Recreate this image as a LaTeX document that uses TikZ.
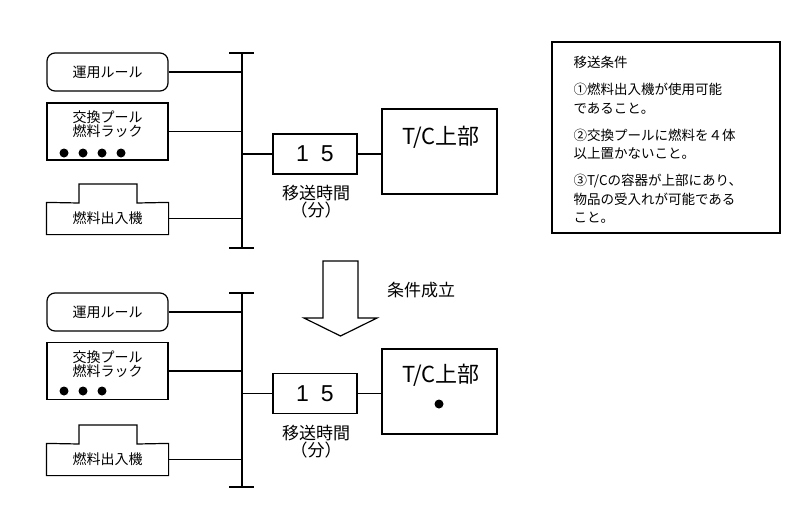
\documentclass[tikz,border=0pt]{standalone}
\usepackage{fontspec}
\setmainfont{Noto Sans CJK JP}
\newfontfamily\latinfont{Liberation Sans}
\begin{document}
\begin{tikzpicture}[x=1pt,y=-1pt,line width=1.2pt,
  lbox/.style={draw,minimum width=121pt,inner sep=0pt,font=\fontsize{14}{14}\selectfont},
  ltext/.style={inner sep=0pt,font=\fontsize{14}{14}\selectfont,align=center},
  numbox/.style={draw,minimum width=84pt,minimum height=40pt,inner sep=0pt,font=\latinfont\fontsize{23}{23}\selectfont},
  tcbox/.style={draw,minimum width=115pt,minimum height=85pt,inner sep=0pt},
  tctext/.style={inner sep=0pt,font=\fontsize{22}{22}\selectfont},
  caption/.style={inner sep=0pt,font=\fontsize{17}{14}\selectfont,align=center},
  fdot/.style={fill=black,draw=none,circle,minimum size=9pt,inner sep=0pt},
  bus/.style={line width=1.2pt},
]
\useasboundingbox (0,0) rectangle (800,519);

% ---------- top section ----------
\node[lbox,rounded corners=8pt,minimum height=38pt] (rule1) at (107.5,72) {運用ルール};
\node[lbox,minimum height=57pt] (pool1) at (107.5,131.5) {};
\node[ltext,font=\fontsize{14}{13.5}\selectfont] (pool1t) at (107.5,124) {交換プール\\燃料ラック};
\node[fdot] (d11) at (64,153) {};
\node[fdot] (d12) at (83,153) {};
\node[fdot] (d13) at (102,153) {};
\node[fdot] (d14) at (121,153) {};
\node[ltext,minimum width=121pt,minimum height=31pt] (mach1) at (107.5,218.5) {\raisebox{-1.5pt}{燃料出入機}};
\draw (mach1.north west) -- (79,203) -- (79,184) -- (137,184) -- (137,203) -- (mach1.north east)
      -- (mach1.south east) -- (mach1.south west) -- cycle;
\coordinate (bus1t) at (242,53);
\coordinate (bus1b) at (242,248);
\draw[bus] (bus1t) -- (bus1b);
\draw[bus] ([xshift=-13pt]bus1t) -- ([xshift=12pt]bus1t);
\draw[bus] ([xshift=-13pt]bus1b) -- ([xshift=12pt]bus1b);
\draw (rule1.east) -- (rule1.east -| bus1t);
\draw (pool1.east) -- (pool1.east -| bus1t);
\draw (mach1.east) -- (mach1.east -| bus1t);
\node[numbox] (num1) at (315,154) {1\hspace{12pt}5};
\draw (num1.west -| bus1t) -- (num1.west);
\node[tcbox] (tc1) at (439.5,151.5) {};
\node[tctext] (tc1t) at (441,137) {T/C上部};
\draw (num1.east) -- (num1.east -| tc1.west);
\node[caption] (cap1) at (316,202) {移送時間\\（分）};

% ---------- arrow ----------
\draw (323,261) -- (358,261) -- (358,318) -- (377,318) -- (340.5,336) -- (304,318) -- (323,318) -- cycle;
\node[caption] (cond) at (421,290) {条件成立};

% ---------- bottom section ----------
\node[lbox,rounded corners=8pt,minimum height=38pt] (rule2) at (107.5,312) {運用ルール};
\node[lbox,minimum height=57pt] (pool2) at (107.5,371) {};
\node[ltext,font=\fontsize{14}{13.5}\selectfont] (pool2t) at (107.5,364) {交換プール\\燃料ラック};
\node[fdot] (d21) at (64,391) {};
\node[fdot] (d22) at (83,391) {};
\node[fdot] (d23) at (102,391) {};
\node[ltext,minimum width=121pt,minimum height=31pt] (mach2) at (107.5,459.5) {\raisebox{-1.5pt}{燃料出入機}};
\draw (mach2.north west) -- (79,444) -- (79,425) -- (137,425) -- (137,444) -- (mach2.north east)
      -- (mach2.south east) -- (mach2.south west) -- cycle;
\coordinate (bus2t) at (242,293);
\coordinate (bus2b) at (242,487);
\draw[bus] (bus2t) -- (bus2b);
\draw[bus] ([xshift=-13pt]bus2t) -- ([xshift=12pt]bus2t);
\draw[bus] ([xshift=-13pt]bus2b) -- ([xshift=12pt]bus2b);
\draw (rule2.east) -- (rule2.east -| bus2t);
\draw (pool2.east) -- (pool2.east -| bus2t);
\draw (mach2.east) -- (mach2.east -| bus2t);
\node[numbox] (num2) at (315,393.5) {1\hspace{12pt}5};
\draw (num2.west -| bus2t) -- (num2.west);
\node[tcbox] (tc2) at (439.5,391.5) {};
\node[tctext] (tc2t) at (441,375) {T/C上部};
\node[fdot,minimum size=9pt] (tcdot) at (439,404) {};
\draw (num2.east) -- (num2.east -| tc2.west);
\node[caption] (cap2) at (316,442) {移送時間\\（分）};

% ---------- conditions ----------
\node[draw,line width=1.8pt,minimum width=228pt,minimum height=191pt,inner sep=0pt] (conds) at (666,137.5) {};
\node[anchor=north west,inner sep=0pt,align=left,font=\fontsize{13.5}{18.5}\selectfont] (condt) at (573,56)
 {移送条件\\[8.5pt]
  ①燃料出入機が使用可能\\
  であること。\\[8.5pt]
  ②交換プールに燃料を４体\\
  以上置かないこと。\\[8.5pt]
  ③T/Cの容器が上部にあり、\\
  物品の受入れが可能である\\
  こと。};
\end{tikzpicture}
\end{document}
